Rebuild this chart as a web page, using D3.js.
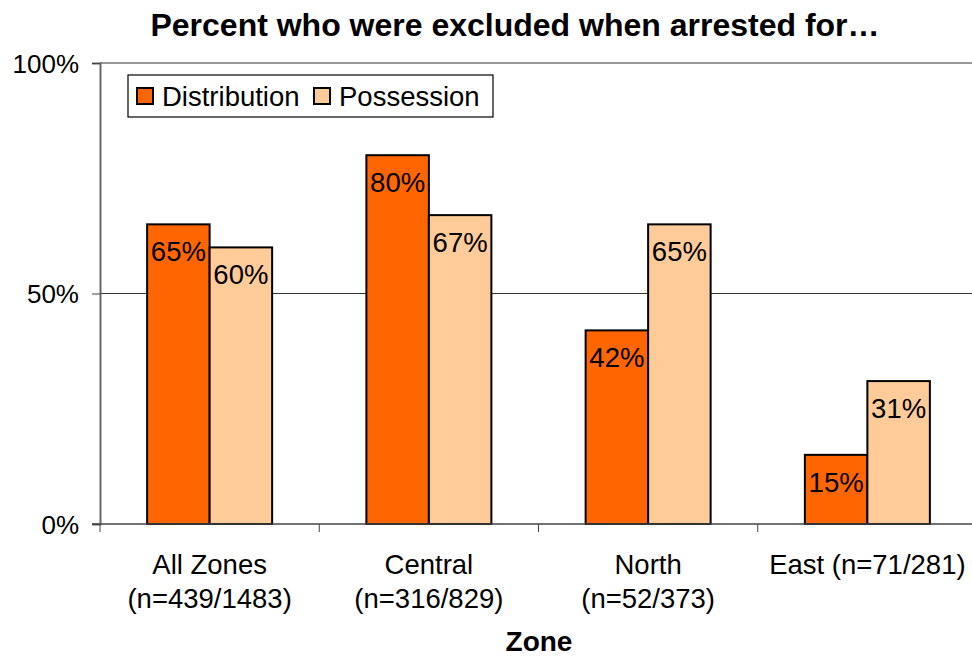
<!DOCTYPE html>
<html><head><meta charset="utf-8">
<script src="https://cdn.jsdelivr.net/npm/d3@7"></script>
<style>body{margin:0;background:#fff}text{font-family:Arial,"Liberation Sans",sans-serif}</style>
</head><body>
<svg id="c" width="972" height="658"></svg>
<script>
const categories = [["All Zones","(n=439/1483)"],["Central","(n=316/829)"],["North","(n=52/373)"],["East (n=71/281)"]];
const seriesNames = ["Distribution","Possession"];
const distribution = [65,80,42,15];
const possession = [60,67,65,31];
const yTicks = [0,50,100];
const colors = ["#FF6600","#FFCC99"];

const svg = d3.select("#c");
const L=100, R=977, T=63, B=524;
const x = d3.scaleBand().domain(d3.range(categories.length)).range([L,R]).paddingInner(0).paddingOuter(0);
const y = d3.scaleLinear().domain([0,100]).range([B,T]);
const bw = 62.5;
const xs = d3.scaleBand().domain([0,1]).range([0, bw*2]);

// gridlines
svg.append("g").selectAll("line").data(yTicks.filter(d=>d>0)).join("line")
  .attr("x1",L).attr("x2",R).attr("y1",d=>y(d)).attr("y2",d=>y(d))
  .attr("stroke","#333").attr("stroke-width",1.2);

// y axis
const ya = svg.append("g").attr("transform",`translate(${L},0)`)
  .call(d3.axisLeft(y).tickValues(yTicks).tickFormat(d=>d+"%").tickSize(8).tickPadding(13));
ya.select(".domain").attr("stroke","#666").attr("stroke-width",2);
ya.selectAll(".tick line").attr("stroke","#444");
ya.selectAll(".tick text").style("font-size","26px").attr("fill","#000").attr("dy","0.36em");

// bars
const data = [];
categories.forEach((c,i)=>{data.push({i,s:0,v:distribution[i]});data.push({i,s:1,v:possession[i]});});
const gx = i => x(i) + (x.bandwidth()-bw*2)/2;
svg.append("g").selectAll("rect").data(data).join("rect")
  .attr("x",d=>gx(d.i)+xs(d.s)).attr("width",bw)
  .attr("y",d=>y(d.v)).attr("height",d=>B-y(d.v))
  .attr("fill",d=>colors[d.s]).attr("stroke","#000").attr("stroke-width",2);
svg.append("g").selectAll("text").data(data).join("text")
  .attr("x",d=>gx(d.i)+xs(d.s)+bw/2).attr("y",d=>y(d.v)+37)
  .attr("text-anchor","middle").style("font-size","27.5px").text(d=>d.v+"%");

// x axis
const xa = svg.append("g").attr("transform",`translate(0,${B})`);
xa.append("line").attr("x1",L-8).attr("x2",R).attr("stroke","#444").attr("stroke-width",1.5);
xa.selectAll("line.t").data(d3.range(categories.length+1)).join("line").attr("class","t")
  .attr("x1",i=>L+i*x.step()).attr("x2",i=>L+i*x.step()).attr("y1",0).attr("y2",8).attr("stroke","#444");
categories.forEach((c,i)=>{
  const t = xa.append("text").attr("text-anchor","middle").style("font-size","27.5px")
    .attr("x",x(i)+x.bandwidth()/2);
  c.forEach((line,k)=>t.append("tspan").attr("x",x(i)+x.bandwidth()/2).attr("y",50+k*34).text(line));
});

// titles
svg.append("text").attr("x",515).attr("y",36).attr("text-anchor","middle")
  .style("font-size","32px").style("font-weight","bold").text("Percent who were excluded when arrested for…");
svg.append("text").attr("x",539).attr("y",651).attr("text-anchor","middle")
  .style("font-size","28px").style("font-weight","bold").text("Zone");

// legend
const lg = svg.append("g");
lg.append("rect").attr("x",128).attr("y",75).attr("width",365).attr("height",42)
  .attr("fill","#fff").attr("stroke","#000").attr("stroke-width",1.2);
const lx=[137,314];
seriesNames.forEach((n,k)=>{
  lg.append("rect").attr("x",lx[k]).attr("y",88).attr("width",16).attr("height",16)
    .attr("fill",colors[k]).attr("stroke","#000").attr("stroke-width",2);
  lg.append("text").attr("x",lx[k]+25).attr("y",106).style("font-size","27.5px").text(n);
});
</script>
</body></html>
